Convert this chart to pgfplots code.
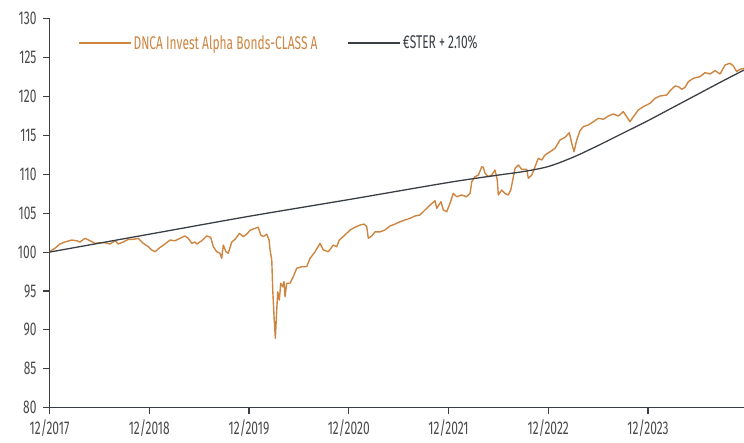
\documentclass[border=0pt]{standalone}
\usepackage{pgfplots}
\pgfplotsset{compat=1.18}
\usepackage{fontspec}
\setmainfont{Fira Sans}[FakeStretch=0.65]
\definecolor{fund}{HTML}{CD8540}
\definecolor{bench}{HTML}{3A3F45}
\definecolor{ticktxt}{HTML}{4A4A4A}
\begin{document}
\begin{tikzpicture}
\begin{axis}[
  scale only axis,
  width=694.5bp, height=389bp,
  xmin=0, xmax=6.962, ymin=80, ymax=130,
  axis x line*=bottom, axis y line*=left,
  axis line style={bench, line width=1.3bp},
  xtick={0,1,2,3,4,5,6},
  xticklabels={12/2017,12/2018,12/2019,12/2020,12/2021,12/2022,12/2023},
  ytick={80,85,...,130},
  tick align=outside,
  major tick length=6.5bp,
  tick style={bench, line width=1.1bp},
  /pgf/number format/assume math mode=true,
  ticklabel style={font=\fontsize{18.5}{21}\selectfont, text=ticktxt},
  yticklabel style={xshift=-3bp},
  xticklabel style={yshift=-2bp},
  legend columns=2,
  legend style={draw=none, fill=none, inner sep=0pt, at={(axis description cs:0.041,0.9375)}, anchor=west,
    font=\fontsize{18.5}{21}\selectfont,
    /tikz/every even column/.append style={column sep=28bp}},
  legend cell align=left,
  legend image code/.code={\draw[#1] (0bp,0bp) -- (52bp,0bp);},
]
\addplot[fund, line width=1.4bp, line join=round] table {
0.000 100.05
0.055 100.5
0.105 101.04
0.155 101.3
0.223 101.55
0.273 101.46
0.306 101.3
0.356 101.77
0.406 101.46
0.456 101.13
0.506 101.2
0.556 101.2
0.607 101.04
0.657 101.46
0.690 101.04
0.740 101.3
0.790 101.64
0.840 101.64
0.890 101.77
0.940 101.13
0.990 100.7
1.025 100.27
1.058 100.05
1.108 100.6
1.158 101.04
1.208 101.55
1.258 101.46
1.308 101.77
1.358 102.07
1.391 101.77
1.426 101.13
1.459 101.3
1.476 101.04
1.526 101.46
1.576 102.07
1.616 101.9
1.642 100.7
1.676 100.05
1.709 99.85
1.726 99.2
1.742 100.9
1.769 100.05
1.792 99.85
1.827 101.3
1.860 101.64
1.903 102.4
1.943 102.0
1.977 102.3
2.010 102.8
2.060 103.05
2.093 103.2
2.117 102.2
2.143 102.0
2.178 102.3
2.201 101.55
2.211 100.27
2.228 99.0
2.238 95.13
2.251 91.7
2.264 88.92
2.278 92.56
2.288 94.9
2.304 93.85
2.318 95.99
2.338 95.55
2.351 96.2
2.361 94.27
2.378 95.99
2.411 95.99
2.444 96.84
2.478 97.92
2.528 98.12
2.578 98.12
2.612 99.2
2.662 100.05
2.712 101.13
2.745 100.27
2.795 100.05
2.845 100.9
2.879 100.7
2.905 101.55
2.962 102.2
3.013 102.84
3.063 103.19
3.113 103.48
3.156 103.6
3.180 103.27
3.196 101.77
3.230 102.07
3.263 102.6
3.313 102.6
3.363 102.84
3.413 103.35
3.463 103.6
3.514 103.9
3.564 104.13
3.614 104.34
3.664 104.64
3.714 104.77
3.764 105.41
3.815 106.05
3.865 106.6
3.882 105.63
3.925 106.48
3.948 105.41
3.982 105.2
4.015 106.27
4.048 107.55
4.082 107.12
4.132 107.34
4.183 107.12
4.216 107.55
4.233 109.05
4.266 109.7
4.299 109.9
4.333 110.97
4.349 110.9
4.366 110.13
4.399 109.7
4.433 109.9
4.466 110.55
4.489 109.27
4.499 107.34
4.533 107.98
4.566 107.55
4.599 107.34
4.624 107.98
4.644 109.27
4.667 110.77
4.700 111.2
4.734 110.64
4.784 110.64
4.800 109.48
4.834 109.9
4.867 110.97
4.900 112.05
4.934 111.84
4.967 112.48
5.018 112.9
5.068 113.34
5.118 114.41
5.168 114.75
5.211 115.35
5.235 113.98
5.258 112.9
5.285 114.41
5.318 115.6
5.351 116.12
5.401 116.34
5.452 116.76
5.502 117.2
5.552 117.07
5.602 117.49
5.652 117.75
5.702 117.49
5.752 118.05
5.786 117.4
5.819 116.76
5.853 117.4
5.902 118.26
5.953 118.69
6.020 119.13
6.070 119.77
6.120 120.06
6.187 120.19
6.221 120.75
6.271 121.35
6.304 121.26
6.338 120.93
6.371 121.18
6.404 121.9
6.454 122.34
6.521 122.55
6.571 123.06
6.622 122.89
6.672 123.32
6.722 122.89
6.772 124.05
6.822 124.27
6.855 123.92
6.889 123.19
6.922 123.5
6.962 123.62
};
\addlegendentry{\textcolor{fund}{DNCA Invest Alpha Bonds-CLASS A}}
\addplot[bench, line width=1.3bp, smooth] table {
0.00 100.0
1.00 102.3
2.00 104.6
3.00 106.75
4.00 108.95
4.50 109.9
4.75 110.35
5.00 111.0
5.25 112.2
5.50 113.7
5.75 115.3
6.00 116.9
6.25 118.6
6.50 120.3
6.75 122.0
6.962 123.4
};
\addlegendentry{\textcolor{bench}{€STER + 2.10\%}}
\end{axis}
\pgfresetboundingbox
\path (current axis.south west) ++(-49.5bp,-35.3bp) coordinate (bl);
\path (current axis.north east) ++(0bp,18.7bp) coordinate (tr);
\useasboundingbox (bl) rectangle (tr);
\end{tikzpicture}
\end{document}
